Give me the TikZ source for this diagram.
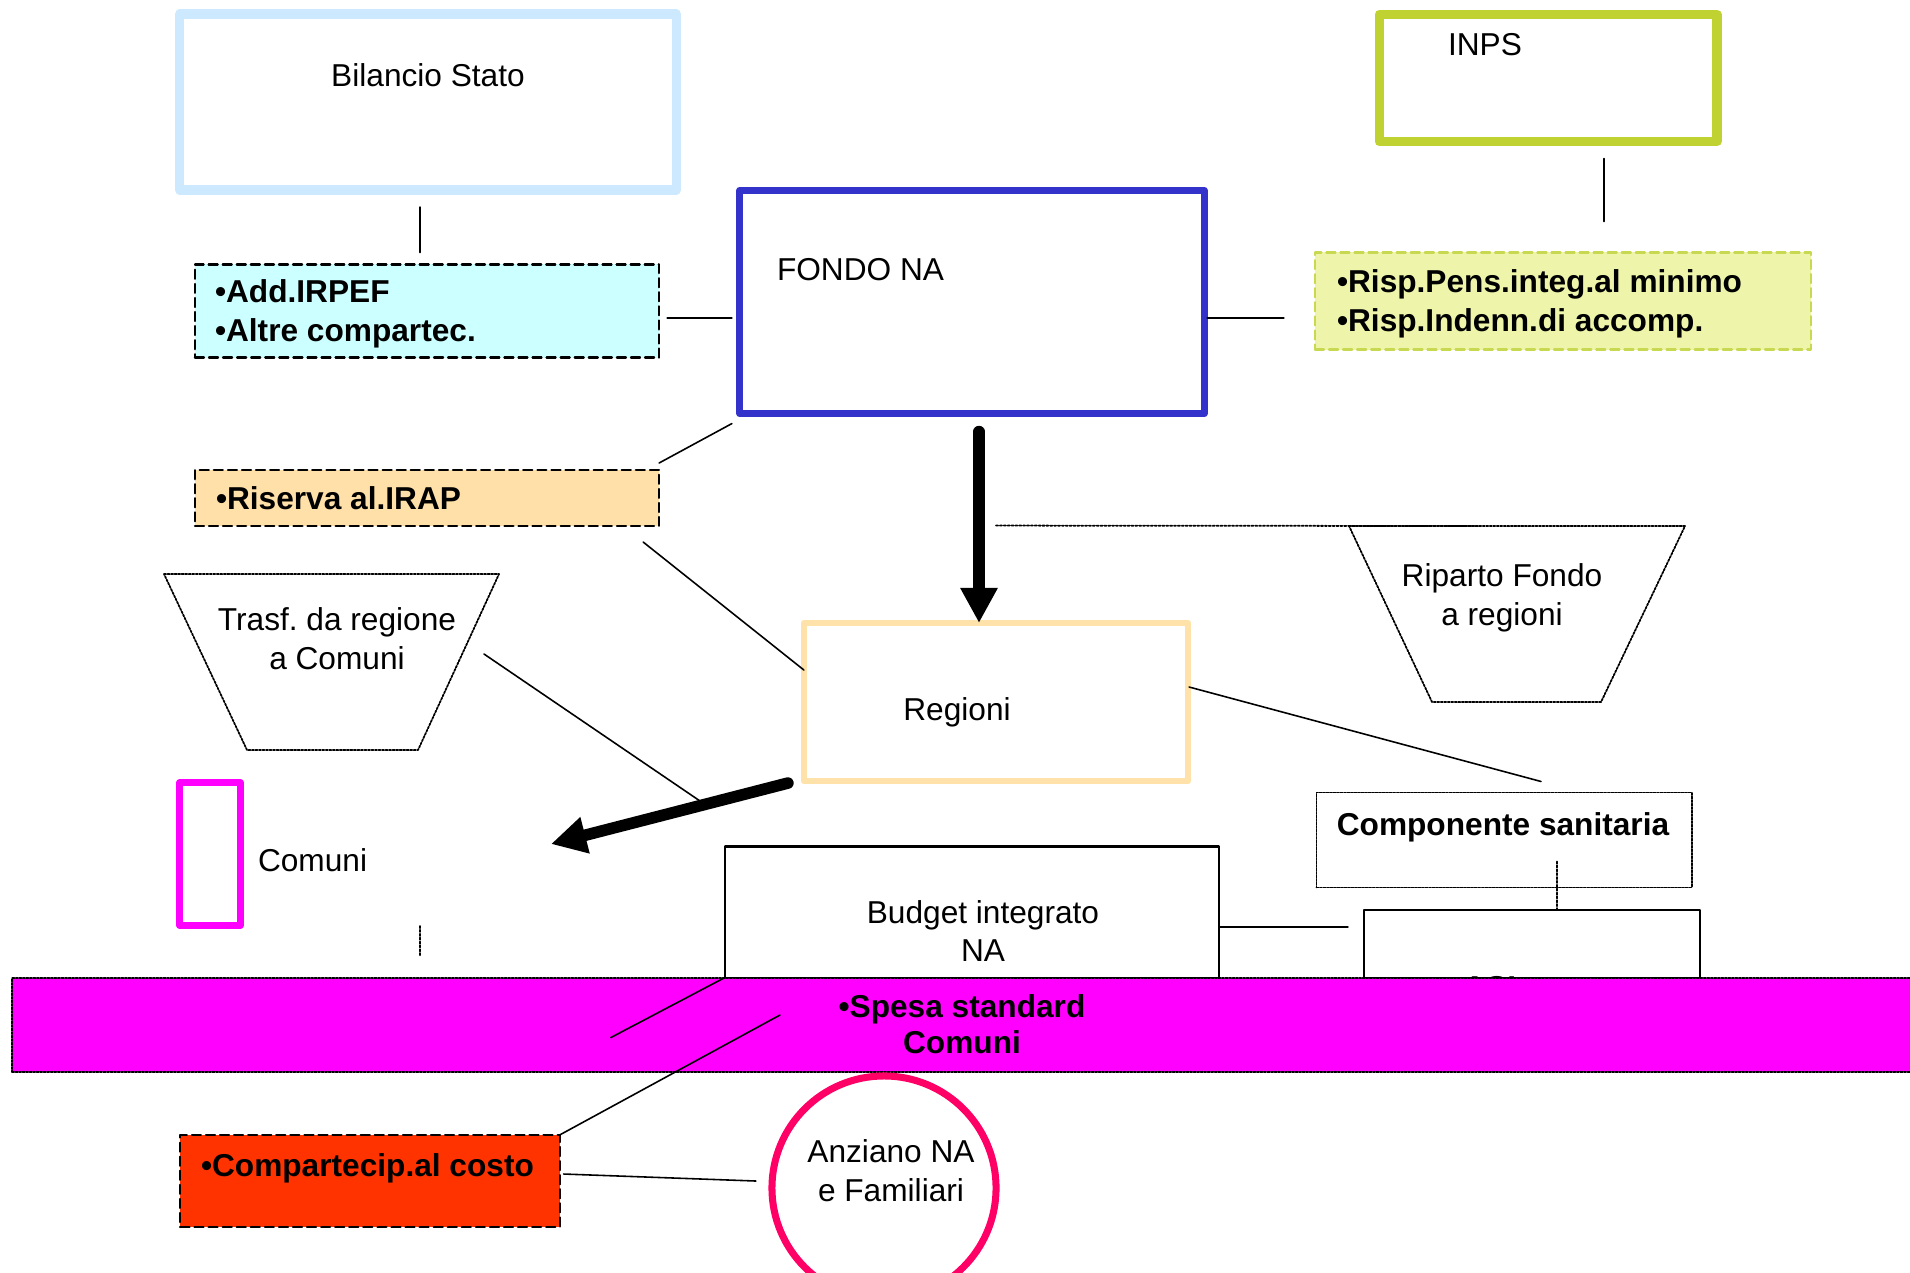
\documentclass[tikz,border=0pt]{standalone}
\usepackage{fontspec}
\setmainfont{Liberation Sans}
\usetikzlibrary{arrows.meta,calc}
\frenchspacing

\definecolor{bilblue}{RGB}{204,233,255}
\definecolor{inpsgreen}{RGB}{192,210,50}
\definecolor{addcyan}{RGB}{204,255,255}
\definecolor{fondoblue}{RGB}{51,51,204}
\definecolor{rispyellow}{RGB}{238,245,170}
\definecolor{rispedge}{RGB}{200,216,80}
\definecolor{irapbeige}{RGB}{255,224,168}
\definecolor{regbeige}{RGB}{255,226,170}
\definecolor{comunimag}{RGB}{255,0,255}
\definecolor{copayred}{RGB}{255,51,0}
\definecolor{anzred}{RGB}{255,0,102}

\begin{document}
\begin{tikzpicture}[x=0.01cm,y=-0.01cm,line cap=round,line join=round,
    every node/.style={inner sep=0pt,outer sep=0pt,font=\fontsize{9}{11}\selectfont},
    bold/.style={font=\fontsize{9}{11}\selectfont\bfseries},
    notebox/.style={draw,fill=#1,line width=0.6pt,dash pattern=on 2.6pt off 1.4pt},
    dotbox/.style={draw,line width=0.5pt,dash pattern=on 0.6pt off 0.4pt},
    link/.style={line width=0.45pt},
    dotlink/.style={line width=0.5pt,dash pattern=on 0.6pt off 0.5pt},
    flow/.style={line width=3.3pt,-{Triangle[width=10pt,length=10pt]}}]
  \useasboundingbox (0,0) rectangle (1910,1272);

  % sources
  \node[draw=bilblue,line width=2.6pt,minimum width=4.96cm,minimum height=1.76cm] (bil) at (428,102) {};
  \node (bilT) at (428,75) {Bilancio Stato};
  \node[draw=inpsgreen,line width=2.8pt,minimum width=3.37cm,minimum height=1.27cm] (inps) at (1548,78) {};
  \node (inpsT) at (1485,45) {INPS};
  \node[draw=fondoblue,line width=2pt,minimum width=4.64cm,minimum height=2.23cm] (fondo) at (972,302) {};
  \node[anchor=west] (fondoT) at (777,270) {FONDO NA};
  \node[notebox=addcyan,minimum width=4.64cm,minimum height=0.93cm] (add) at (427,311) {};
  \node[bold,anchor=west,align=left] (addT) at (215,314) {•Add.IRPEF\\•Altre compartec.};
  \node[notebox=rispyellow,draw=rispedge,minimum width=4.96cm,minimum height=0.97cm] (risp) at (1563,301) {};
  \node[bold,anchor=west,align=left] (rispT) at (1337,304) {•Risp.Pens.integ.al minimo\\•Risp.Indenn.di accomp.};
  \node[notebox=irapbeige,minimum width=4.64cm,minimum height=0.56cm] (irap) at (427,498) {};
  \node[bold,anchor=west] (irapT) at (216,498) {•Riserva al.IRAP};

  % regions and towns
  \node[draw=regbeige,line width=1.8pt,minimum width=3.84cm,minimum height=1.58cm] (regioni) at (996,702) {};
  \node (regioniT) at (957,712) {Regioni};
  \coordinate (trasf) at (331,662);
  \draw[dotbox] (trasf) ++(-167,-88) -- ++(335,0) -- ++(-81,176) -- ++(-171,0) -- cycle;
  \node[align=center] (trasfT) at (337,639) {Trasf. da regione\\a Comuni};
  \coordinate (riparto) at (1517,614);
  \draw[dotbox] (riparto) ++(-168,-88) -- ++(336,0) -- ++(-84,176) -- ++(-169,0) -- cycle;
  \node[align=center] (ripartoT) at (1502,598) {Riparto Fondo\\a regioni};
  \node[draw=comunimag,line width=1.8pt,minimum width=0.61cm,minimum height=1.43cm] (comuni) at (210,854) {};
  \node[anchor=west] (comuniT) at (258,860) {Comuni};
  \node[dotbox,minimum width=3.75cm,minimum height=0.95cm] (sanit) at (1504,840) {};
  \node[bold] (sanitT) at (1503,827) {Componente sanitaria};
  \node[draw,line width=0.6pt,minimum width=4.94cm,minimum height=1.31cm] (budget) at (972,912) {};
  \node[align=center] (budgetT) at (983,931) {Budget integrato\\NA};
  \node[draw,line width=0.6pt,minimum width=3.36cm,minimum height=0.68cm] (asl) at (1532,944) {};
  \node[bold,anchor=north] (aslT) at (1495,976) {ASL};

  % band
  \node[dotbox,fill=comunimag,minimum width=19.1cm,minimum height=0.94cm,anchor=north west] (band) at (12,978) {};
  \node[bold,align=center,font=\fontsize{9}{10.4}\selectfont\bfseries] (spesaT) at (962,1024) {•Spesa standard\\Comuni};
  \node[notebox=copayred,minimum width=3.79cm,minimum height=0.92cm] (copay) at (370,1181) {};
  \node[bold,anchor=west] (copayT) at (201,1168) {•Compartecip.al costo};
  \node[circle,draw=anzred,line width=2pt,minimum size=2.24cm] (anziano) at (884,1188) {};
  \node[align=center] (anzianoT) at (891,1171) {Anziano NA\\e Familiari};

  % connectors
  \coordinate (tap) at ($(fondo.south)+(24,112)$);
  \coordinate (comTip) at (551,844);
  \draw[link] ($(bil.south)+(-8,17)$) -- ($(add.north)+(-7,-12)$);
  \draw[link] ($(add.east)+(8,7)$) -- ($(fondo.west)+(-8,16)$);
  \draw[link] ($(fondo.east)+(3,16)$) -- ($(risp.west)+(-31,17)$);
  \draw[link] ($(inps.south)+(56,17)$) -- ($(risp.north)+(41,-31)$);
  \draw[link] ($(fondo.south west)+(-8,10)$) -- ($(irap.north east)+(0,-7)$);
  \draw[link] ($(irap.south east)+(-16,16)$) -- ($(regioni.west)+(0,-32)$);
  \draw[flow] ($(fondo.south)+(7,18)$) -- ($(regioni.north)+(-17,0)$);
  \draw[dotlink] (tap) -- ($(riparto)+(-37,-88)$);
  \draw[flow] ($(regioni.south west)+(-16,2)$) -- coordinate[pos=0.35] (hit) (comTip);
  \draw[link] ($(trasf)+(153,-8)$) -- (hit);
  \draw[link] ($(regioni.east)+(1,-15)$) -- ($(sanit.north)+(37,-11)$);
  \draw[link] ($(budget.east)+(0,15)$) -- ($(asl.west)+(-16,-17)$);
  \draw[dotlink] ($(sanit.south)+(53,-26)$) -- ($(asl.north)+(25,0)$);
  \draw[dotlink] ($(band.north west)+(408,-52)$) -- ($(band.north west)+(408,-22)$);
  \draw[link] (budget.south west) -- ($(budget.south west)+(-114,60)$);
  \draw[link] ($(spesaT.center)+(-182,-9)$) -- (copay.north east);
  \draw[link] ($(copay.east)+(4,-7)$) -- ($(anziano.west)+(-16,-7)$);
\end{tikzpicture}
\end{document}
